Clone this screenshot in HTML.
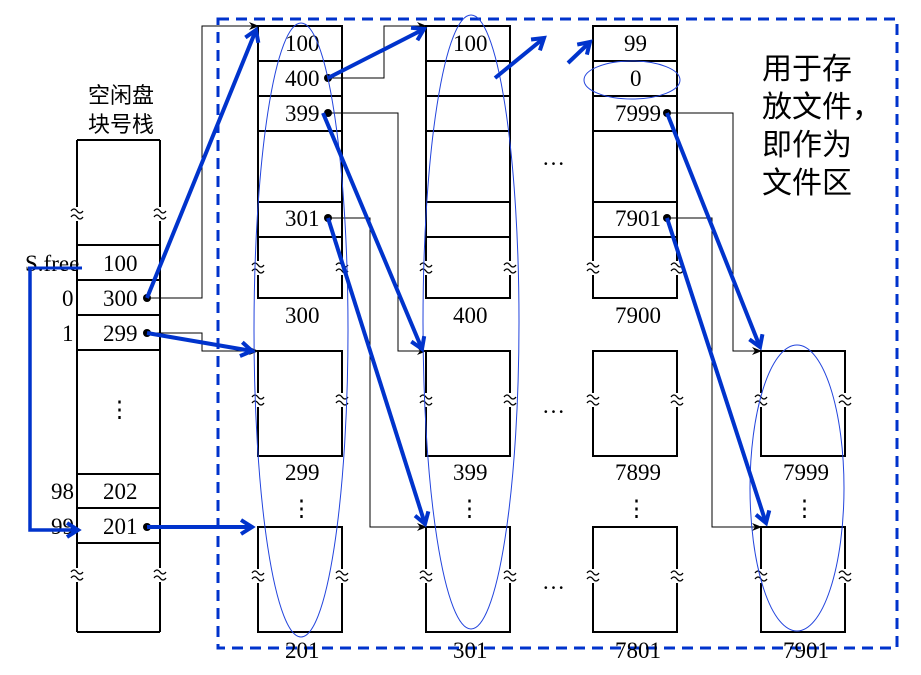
<!DOCTYPE html>
<html><head><meta charset="utf-8"><style>
html,body{margin:0;padding:0;background:#fff;}
svg{display:block;}
.t{font-family:"Liberation Serif",serif;font-size:23px;fill:#000;}
.c{font-family:"Liberation Sans","Noto Sans CJK SC",sans-serif;fill:#000;}
</style></head><body>
<svg width="921" height="675" viewBox="0 0 921 675" xmlns="http://www.w3.org/2000/svg">
<defs>
<marker id="ab" markerWidth="10" markerHeight="10" refX="9" refY="5" orient="auto" markerUnits="userSpaceOnUse"><path d="M0,1 L10,5 L0,9 L3,5 Z" fill="#000"/></marker>
<marker id="bb" markerWidth="18" markerHeight="18" refX="13" refY="9" orient="auto" markerUnits="userSpaceOnUse"><path d="M2,2 L13,9 L2,16" fill="none" stroke="#0033cc" stroke-width="4"/></marker>
<g id="brk"><rect x="-6" y="-7" width="12" height="14" fill="#fff"/><path d="M-6,-3 q3,-4 6,0 t6,0 M-6,3 q3,-4 6,0 t6,0" fill="none" stroke="#000" stroke-width="1.3"/></g>
</defs>
<rect x="218" y="19" width="679" height="629" fill="none" stroke="#0033cc" stroke-width="3" stroke-dasharray="11,7"/>

<g fill="none" stroke="#000" stroke-width="2">
<path d="M77,140 H160 M77,140 V632 M160,140 V632 M77,632 H160"/>
<path d="M77,245 H160 M77,280 H160 M77,315 H160 M77,350 H160 M77,474 H160 M77,508 H160 M77,543 H160"/>
</g>
<use href="#brk" x="77" y="214"/><use href="#brk" x="160" y="214"/>
<use href="#brk" x="77" y="575"/><use href="#brk" x="160" y="575"/>
<text class="c" x="88" y="103" font-size="22">空闲盘</text>
<text class="c" x="88" y="132" font-size="22">块号栈</text>
<text class="t" x="103" y="271">100</text>
<text class="t" x="103" y="306">300</text>
<text class="t" x="103" y="341">299</text>
<text class="t" x="103" y="499">202</text>
<text class="t" x="103" y="534">201</text>
<text class="t" x="108" y="417">⋮</text>
<text class="t" x="25" y="271">S.free</text>
<text class="t" x="62" y="306">0</text>
<text class="t" x="62" y="341">1</text>
<text class="t" x="51" y="499">98</text>
<text class="t" x="51" y="534">99</text>

<g fill="none" stroke="#000" stroke-width="2">
<path d="M258,26 H342 V298 H258 Z M258,61 H342 M258,96 H342 M258,131 H342 M258,202 H342 M258,237 H342"/>
<path d="M426,26 H510 V298 H426 Z M426,61 H510 M426,96 H510 M426,131 H510 M426,202 H510 M426,237 H510"/>
<path d="M593,26 H677 V298 H593 Z M593,61 H677 M593,96 H677 M593,131 H677 M593,202 H677 M593,237 H677"/>
<rect x="258" y="351" width="84" height="105"/><rect x="426" y="351" width="84" height="105"/>
<rect x="593" y="351" width="84" height="105"/><rect x="761" y="351" width="84" height="105"/>
<rect x="258" y="527" width="84" height="105"/><rect x="426" y="527" width="84" height="105"/>
<rect x="593" y="527" width="84" height="105"/><rect x="761" y="527" width="84" height="105"/>
</g>
<g>
<use href="#brk" x="258" y="268"/><use href="#brk" x="342" y="268"/><use href="#brk" x="426" y="268"/><use href="#brk" x="510" y="268"/><use href="#brk" x="593" y="268"/><use href="#brk" x="677" y="268"/>
<use href="#brk" x="258" y="400"/><use href="#brk" x="342" y="400"/><use href="#brk" x="426" y="400"/><use href="#brk" x="510" y="400"/><use href="#brk" x="593" y="400"/><use href="#brk" x="677" y="400"/><use href="#brk" x="761" y="400"/><use href="#brk" x="845" y="400"/>
<use href="#brk" x="258" y="576"/><use href="#brk" x="342" y="576"/><use href="#brk" x="426" y="576"/><use href="#brk" x="510" y="576"/><use href="#brk" x="593" y="576"/><use href="#brk" x="677" y="576"/><use href="#brk" x="761" y="576"/><use href="#brk" x="845" y="576"/>
</g>
<text class="t" x="285" y="51">100</text><text class="t" x="285" y="86">400</text><text class="t" x="285" y="121">399</text><text class="t" x="285" y="226">301</text>
<text class="t" x="453" y="51">100</text>
<text class="t" x="624" y="51">99</text><text class="t" x="630" y="86">0</text><text class="t" x="615" y="121">7999</text><text class="t" x="615" y="226">7901</text>
<text class="t" x="285" y="323">300</text><text class="t" x="453" y="323">400</text><text class="t" x="615" y="323">7900</text>
<text class="t" x="285" y="480">299</text><text class="t" x="453" y="480">399</text><text class="t" x="615" y="480">7899</text><text class="t" x="783" y="480">7999</text>
<text class="t" x="285" y="658">201</text><text class="t" x="453" y="658">301</text><text class="t" x="615" y="658">7801</text><text class="t" x="783" y="658">7901</text>
<text class="t" x="290" y="516">⋮</text><text class="t" x="458" y="516">⋮</text><text class="t" x="625" y="516">⋮</text><text class="t" x="793" y="516">⋮</text>
<text class="t" x="542" y="165">…</text><text class="t" x="542" y="413">…</text><text class="t" x="542" y="589">…</text>
<text class="c" x="762" y="79" font-size="30">用于存</text>
<text class="c" x="762" y="117" font-size="30">放文件，</text>
<text class="c" x="762" y="155" font-size="30">即作为</text>
<text class="c" x="762" y="193" font-size="30">文件区</text>

<g fill="none" stroke="#000" stroke-width="1" marker-end="url(#ab)">
<path d="M147,298 H202 V26 H258"/>
<path d="M147,333 H202 V351 H258"/>
<path d="M328,78 H384 V26 H426"/>
<path d="M328,113 H398 V351 H426"/>
<path d="M328,218 H370 V527 H426"/>
<path d="M667,113 H733 V351 H761"/>
<path d="M667,218 H712 V527 H761"/>
</g>
<g fill="#000"><circle cx="147" cy="298" r="4"/><circle cx="147" cy="333" r="4"/><circle cx="147" cy="527" r="4"/><circle cx="328" cy="78" r="4"/><circle cx="328" cy="113" r="4"/><circle cx="328" cy="218" r="4"/><circle cx="667" cy="113" r="4"/><circle cx="667" cy="218" r="4"/></g>

<g fill="none" stroke="#2244dd" stroke-width="1">
<ellipse cx="301" cy="330" rx="47" ry="307"/>
<ellipse cx="471" cy="322" rx="48" ry="307"/>
<ellipse cx="797" cy="488" rx="47" ry="143"/>
<ellipse cx="632" cy="80" rx="48" ry="19"/>
</g>

<g fill="none" stroke="#0033cc" stroke-width="4" marker-end="url(#bb)">
<path d="M147,298 L256,30"/>
<path d="M147,333 L252,351"/>
<path d="M147,527 L252,527"/>
<path d="M328,78 L424,29"/>
<path d="M323,113 L422,349"/>
<path d="M328,218 L425,524"/>
<path d="M495,78 L544,38"/>
<path d="M568,63 L590,42"/>
<path d="M667,113 L760,347"/>
<path d="M667,218 L766,523"/>
<path d="M30,268 V530 H78" stroke-width="3.5"/>
</g>
<path d="M28,268 H82" stroke="#0033cc" stroke-width="3"/>
</svg>
</body></html>
